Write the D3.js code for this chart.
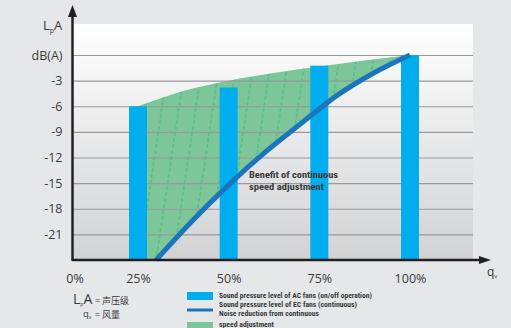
<!DOCTYPE html>
<html><head><meta charset="utf-8">
<script src="https://cdn.jsdelivr.net/npm/d3@7"></script>
<style>
html,body{margin:0;padding:0;background:#e6e7e9;}
svg{display:block;}
.tick text{font-family:"Open Sans",sans-serif;fill:#3a3a3a;}
.narrow{font-family:"Liberation Sans Narrow","Roboto Condensed","Liberation Sans",sans-serif;font-weight:bold;fill:#3a3a3a;}
</style></head>
<body>
<script>
// ---- data ----
const qTicks = [25, 50, 75, 100];
const qLabels = ["25%", "50%", "75%", "100%"];
const dbTicks = [0, -3, -6, -9, -12, -15, -18, -21];
const dbLabels = ["dB(A)", "-3", "-6", "-9", "-12", "-15", "-18", "-21"];
const barQ = [25, 50, 75, 100];
const acLevels = [-6, -3.8, -1.25, 0];
const ecQ = [30, 40, 50, 60, 70, 80, 90, 100];
const ecLevels = [-24, -19.4, -15.2, -11.4, -8.0, -4.7, -2.1, 0];
const upperQ = [25, 37.5, 50, 62.5, 75, 87.5, 100];
const upperLevels = [-6, -4.2, -3.0, -2.1, -1.35, -0.65, 0];
const legendItems = ["Sound pressure level of AC fans (on/off operation)",
  "Sound pressure level of EC fans (continuous)",
  "Noise reduction from continuous", "speed adjustment"];

// ---- layout ----
const W = 511, H = 328;
const pL = 72.5, pR = 473, pT = 24, pB = 260;
const svg = d3.select("body").append("svg").attr("width", W).attr("height", H);
const x = d3.scaleLinear().domain([25, 100]).range([138, 410]);
const y = d3.scaleLinear().domain([-24, 0]).range([pB, 55]);

const defs = svg.append("defs");
const grad = defs.append("linearGradient").attr("id", "bg").attr("x1", 0).attr("y1", 0).attr("x2", 0).attr("y2", 1);
grad.append("stop").attr("offset", "0%").attr("stop-color", "#ffffff");
grad.append("stop").attr("offset", "100%").attr("stop-color", "#d1d2d4");

const pat = defs.append("pattern").attr("id", "hatch").attr("patternUnits", "userSpaceOnUse")
  .attr("width", 17).attr("height", 300).attr("patternTransform", "skewX(-8.5)");
pat.append("line").attr("x1", 8).attr("y1", 0).attr("x2", 8).attr("y2", 300)
  .attr("stroke", "#2fb46c").attr("stroke-width", 0.8).attr("stroke-dasharray", "4,2");

const ecPts = ecQ.map((q, i) => [x(q), y(ecLevels[i])]);
const upPts = upperQ.map((q, i) => [x(q), y(upperLevels[i])]);
const ecLine = d3.line().curve(d3.curveMonotoneX);
const ecD = ecLine(ecPts);
defs.append("clipPath").attr("id", "aboveEC").append("path")
  .attr("d", ecD + `L${x(100) + 5},${ecPts[ecPts.length - 1][1]}L${x(100) + 5},${pT}L${x(25) - 20},${pT}L${x(25) - 20},${pB}L${ecPts[0][0]},${pB}Z`);

// plot background
svg.append("rect").attr("x", pL).attr("y", pT).attr("width", pR - pL).attr("height", pB - pT).attr("fill", "url(#bg)");

// benefit area
const area = d3.area().curve(d3.curveMonotoneX).x(d => d[0]).y1(d => d[1]).y0(pB);
const g = svg.append("g").attr("clip-path", "url(#aboveEC)");
g.append("path").attr("d", area(upPts)).attr("fill", "#7cc69a");
g.append("path").attr("d", area(upPts)).attr("fill", "url(#hatch)");

// gridlines
svg.append("g").attr("transform", `translate(${pL},0)`)
  .call(d3.axisLeft(y).tickValues(dbTicks).tickSize(-(pR - pL)).tickFormat(""))
  .call(a => a.select(".domain").remove())
  .call(a => a.selectAll("line").attr("stroke", "#9a9a9a").attr("stroke-width", 1.2));

// bars
svg.append("g").selectAll("rect").data(barQ).join("rect")
  .attr("x", d => x(d) - 9).attr("width", 18)
  .attr("y", (d, i) => y(acLevels[i])).attr("height", (d, i) => pB - y(acLevels[i]))
  .attr("fill", "#00aeef");

// EC line
svg.append("path").attr("d", ecD).attr("fill", "none").attr("stroke", "#1b75bc").attr("stroke-width", 5);

// y labels
svg.append("g").attr("transform", `translate(${pL},0)`)
  .call(d3.axisLeft(y).tickValues(dbTicks).tickSize(0).tickPadding(10).tickFormat((d, i) => dbLabels[i]))
  .call(a => a.select(".domain").remove())
  .call(a => a.selectAll("text").attr("font-size", 12.5));

// x labels
svg.append("g").attr("transform", `translate(0,${pB})`)
  .call(d3.axisBottom(x).tickValues(qTicks).tickSize(0).tickPadding(14).tickFormat((d, i) => qLabels[i]))
  .call(a => a.select(".domain").remove())
  .call(a => a.selectAll("text").attr("font-size", 12.5));
svg.append("text").attr("x", 75).attr("y", 283).attr("text-anchor", "middle")
  .attr("font-family", "Open Sans, sans-serif").attr("font-size", 12.5).attr("fill", "#3a3a3a").text("0%");

// axes with arrows
svg.append("line").attr("x1", pL).attr("y1", pB).attr("x2", pL).attr("y2", 14).attr("stroke", "#231f20").attr("stroke-width", 2.5);
svg.append("path").attr("d", `M${pL - 4.5},17L${pL + 4.5},17L${pL},5Z`).attr("fill", "#231f20");
svg.append("line").attr("x1", pL - 1).attr("y1", pB).attr("x2", 482).attr("y2", pB).attr("stroke", "#231f20").attr("stroke-width", 2.5);
svg.append("path").attr("d", `M479,${pB - 4}L479,${pB + 4}L491,${pB}Z`).attr("fill", "#231f20");

// axis titles
const t1 = svg.append("text").attr("x", 43).attr("y", 30).attr("font-family", "Open Sans, sans-serif").attr("font-size", 13).attr("fill", "#3a3a3a");
t1.append("tspan").text("L");
t1.append("tspan").attr("font-size", 7).attr("dy", 3).text("p");
t1.append("tspan").attr("dy", -3).text("A");
const t2 = svg.append("text").attr("x", 487).attr("y", 276).attr("font-family", "Open Sans, sans-serif").attr("font-size", 12).attr("fill", "#3a3a3a");
t2.append("tspan").text("q");
t2.append("tspan").attr("font-size", 6).attr("dy", 2).text("v");

// annotation
svg.append("text").attr("class", "narrow").attr("x", 249).attr("y", 178).attr("font-size", 9).attr("textLength", 89).attr("lengthAdjust", "spacingAndGlyphs").text("Benefit of continuous");
svg.append("text").attr("class", "narrow").attr("x", 249).attr("y", 190).attr("font-size", 9).attr("textLength", 75).attr("lengthAdjust", "spacingAndGlyphs").text("speed adjustment");

// symbol key
const k1 = svg.append("text").attr("x", 73).attr("y", 304).attr("font-family", "Open Sans, sans-serif").attr("fill", "#3a3a3a");
k1.append("tspan").attr("font-size", 14).text("L");
k1.append("tspan").attr("font-size", 5).attr("dy", 1.5).text("p");
k1.append("tspan").attr("font-size", 14).attr("dy", -1.5).text("A");
svg.append("text").attr("x", 95).attr("y", 303.5).attr("font-family", "Noto Sans CJK SC, sans-serif").attr("font-size", 9).attr("fill", "#3a3a3a").text("= 声压级");
const k2 = svg.append("text").attr("x", 83).attr("y", 317).attr("font-family", "Open Sans, sans-serif").attr("fill", "#3a3a3a");
k2.append("tspan").attr("font-size", 9.5).text("q");
k2.append("tspan").attr("font-size", 5).attr("dy", 1.5).text("v");
svg.append("text").attr("x", 95).attr("y", 317.5).attr("font-family", "Noto Sans CJK SC, sans-serif").attr("font-size", 9).attr("fill", "#3a3a3a").text("= 风量");

// legend
svg.append("rect").attr("x", 187).attr("y", 292).attr("width", 26).attr("height", 8).attr("fill", "#00aeef");
svg.append("rect").attr("x", 187).attr("y", 308.5).attr("width", 26).attr("height", 3).attr("fill", "#1b75bc");
svg.append("rect").attr("x", 187).attr("y", 322).attr("width", 26).attr("height", 8).attr("fill", "#7cc69a");
const legY = [298, 307, 315.5, 326.5];
const legW = [153, 138, 100, 55];
svg.append("g").selectAll("text").data(legendItems).join("text").attr("class", "narrow")
  .attr("x", 219).attr("y", (d, i) => legY[i]).attr("font-size", 7.5)
  .attr("textLength", (d, i) => legW[i]).attr("lengthAdjust", "spacingAndGlyphs").text(d => d);
</script>
</body></html>
